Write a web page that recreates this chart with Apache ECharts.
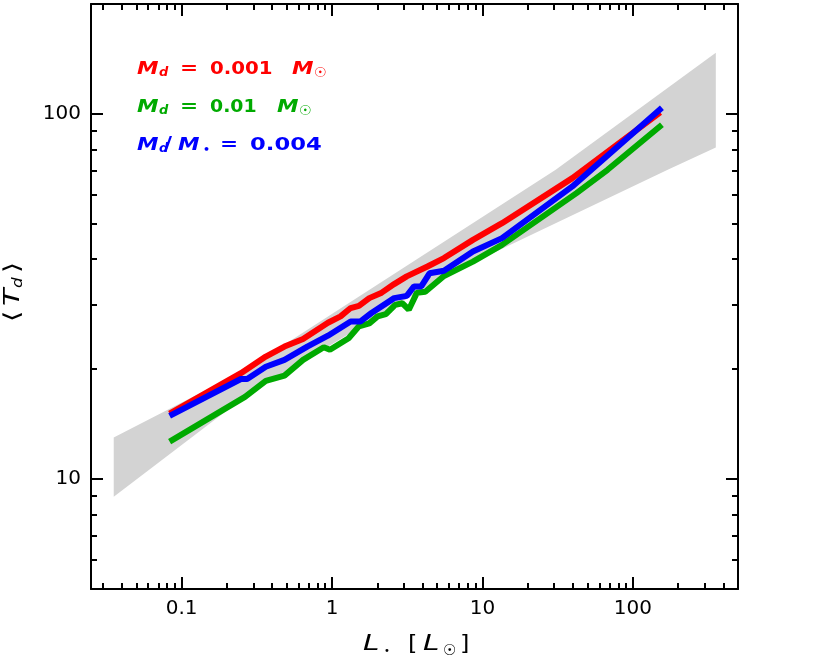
<!DOCTYPE html>
<html><head><meta charset="utf-8">
<script src="https://cdn.jsdelivr.net/npm/echarts@6/dist/echarts.min.js"></script>
<style>html,body{margin:0;padding:0;background:#fff}#c{width:830px;height:662px}</style>
</head><body><div id="c"></div>
<script>
// ---- axis ranges / ticks ----
const xMin = 0.025, xMax = 500;
const yMin = 5, yMax = 200;
const xTickLabels = ['0.1', '1', '10', '100'];
const yTickLabels = ['10', '100'];
const minorMultipliers = [2, 3, 4, 5, 6, 7, 8, 9];

// ---- series (L in L_sun, <T_d> in K) ----
const redL = [0.0833, 0.248, 0.363, 0.483, 0.642, 0.94, 1.14, 1.33, 1.51, 1.77, 2.14, 2.59, 3.14, 4.31, 5.55, 8.65, 13.5, 39.6, 152];
const redT = [15.1, 19.5, 21.65, 23.06, 24.2, 26.8, 27.9, 29.4, 29.8, 31.3, 32.4, 34.2, 35.9, 38.2, 40.3, 45.2, 50.2, 66.7, 101];

const greenL = [0.0833, 0.264, 0.363, 0.483, 0.642, 0.882, 0.969, 1.29, 1.51, 1.77, 2.01, 2.28, 2.63, 2.94, 3.24, 3.67, 4.17, 5.55, 8.65, 13.5, 42.2, 67.9, 156];
const greenT = [12.67, 16.8, 18.57, 19.2, 21.2, 22.97, 22.6, 24.3, 26.2, 26.7, 27.9, 28.3, 30.0, 30.3, 29.1, 32.4, 32.6, 36.0, 39.4, 43.8, 60.7, 70.3, 93.4];

const blueL = [0.0833, 0.248, 0.273, 0.363, 0.483, 0.685, 0.94, 1.33, 1.54, 1.83, 2.59, 3.14, 3.51, 3.92, 4.45, 5.55, 8.65, 13.5, 39.6, 156];
const blueT = [14.9, 18.8, 18.8, 20.3, 21.2, 23.06, 24.7, 27.0, 27.0, 28.5, 31.3, 31.75, 33.7, 33.7, 36.6, 37.2, 42.0, 45.7, 63.3, 104];

// ---- grey band ----
const bandUpperL = [0.0354, 0.264, 30.7, 356];
const bandUpperT = [13.0, 19.9, 70.3, 147];
const bandLowerL = [0.0354, 0.264, 5.55, 170.5, 356];
const bandLowerT = [8.95, 16.8, 35.9, 70.3, 80.9];

const RED = '#ff0000', GREEN = '#00aa00', BLUE = '#0000ff', GREY = '#d3d3d3';
const FONT = '"DejaVu Sans"';

function pairs(a, b) { return a.map((v, i) => [v, b[i]]); }

function makeAxes(dim) {
  const isX = dim === 'x';
  const lo = isX ? xMin : yMin, hi = isX ? xMax : yMax;
  const labels = isX ? xTickLabels : yTickLabels;
  const positions = isX ? ['bottom', 'top'] : ['left', 'right'];
  const axes = [];
  positions.forEach((pos, pi) => {
    axes.push({
      type: 'log', logBase: 10, min: lo, max: hi, position: pos,
      axisLine: { show: true, onZero: false, lineStyle: { color: '#000', width: 2 } },
      axisTick: { show: true, inside: true, length: 12, lineStyle: { color: '#000', width: 2 } },
      splitLine: { show: false },
      axisLabel: {
        show: pi === 0, margin: 10, color: '#000', fontFamily: FONT, fontSize: 20,
        showMinLabel: false, showMaxLabel: false,
        formatter: v => { const s = String(+Number(v).toPrecision(6)); return labels.includes(s) ? s : ''; }
      }
    });
  });
  positions.forEach(pos => {
    minorMultipliers.forEach(m => {
      axes.push({
        type: 'log', logBase: 10, min: lo / m, max: hi / m, position: pos,
        axisLine: { show: false }, splitLine: { show: false }, axisLabel: { show: false },
        axisTick: { show: true, inside: true, length: 6, lineStyle: { color: '#000', width: 2 } }
      });
    });
  });
  return axes;
}

function tok(text, x, y, size, color, italic, sx, bold) {
  return {
    type: 'text', x: x, y: y, scaleX: sx || 1, silent: true,
    style: { text: text, fill: color, font: (italic ? 'italic ' : '') + (bold ? 'bold ' : '') + size + 'px ' + FONT, verticalAlign: 'middle', align: 'left' }
  };
}

function row(color, y, parts) {
  return parts.map(p => tok(p[0], p[1], y + (p[3] || 0), p[2], color, p[4], p[5], true));
}

const graphics = [].concat(
  // legend rows: [text, x, size, dy, italic, scaleX]
  row(RED, 69, [['M', 137, 18, 0, true, 1.2], ['d', 159, 13, 4, true, 1.0], ['=', 180, 18, 0, false, 1.2],
                ['0.001', 210, 18, 0, false, 1.1], ['M', 292, 18, 0, true, 1.2], ['\u2609', 314, 14, 4, false, 1.0]]),
  row(GREEN, 107, [['M', 137, 18, 0, true, 1.2], ['d', 159, 13, 4, true, 1.0], ['=', 180, 18, 0, false, 1.2],
                ['0.01', 210, 18, 0, false, 1.05], ['M', 277, 18, 0, true, 1.2], ['\u2609', 299, 14, 4, false, 1.0]]),
  row(BLUE, 145, [['M', 137, 18, 0, true, 1.2], ['d', 159, 13, 4, true, 1.0], ['/', 164, 20, 0, false, 1.1],
                ['M', 178, 18, 0, true, 1.2], ['\u2022', 203, 11, 5, false, 1.0], ['=', 220, 18, 0, false, 1.2],
                ['0.004', 250, 18, 0, false, 1.26]]),
  [
    // x-axis title
    tok('L', 363, 645, 21, '#000', true, 1.4), tok('\u2022', 384, 651, 10, '#000', false, 1),
    tok('[', 408, 644, 22, '#000', false, 1.1), tok('L', 423, 645, 21, '#000', true, 1.4),
    tok('\u2609', 443, 651, 15, '#000', false, 1.0), tok(']', 460, 644, 22, '#000', false, 1.1),
    // y-axis title (rotated)
    {
      type: 'group', x: 13, y: 322, rotation: Math.PI / 2, silent: true,
      children: [
        tok('\u27E8', 0, 0, 22, '#000', false, 1.3),
        tok('T', 16, 0, 22, '#000', true, 1.3),
        tok('d', 34, 5, 14, '#000', true, 1.2),
        tok('\u27E9', 49, 0, 22, '#000', false, 1.3)
      ]
    }
  ]
);

const chart = echarts.init(document.getElementById('c'), null, { renderer: 'canvas' });
chart.setOption({
  animation: false,
  backgroundColor: '#fff',
  grid: { left: 91, right: 92, top: 4, bottom: 73, containLabel: false },
  xAxis: makeAxes('x'),
  yAxis: makeAxes('y'),
  series: [
    {
      type: 'custom', xAxisIndex: 0, yAxisIndex: 0, silent: true, z: 1,
      data: [[bandUpperL[0], bandUpperT[0]]],
      renderItem: function (params, api) {
        const pts = [];
        for (let i = 0; i < bandUpperL.length; i++) pts.push(api.coord([bandUpperL[i], bandUpperT[i]]));
        for (let i = bandLowerL.length - 1; i >= 0; i--) pts.push(api.coord([bandLowerL[i], bandLowerT[i]]));
        return { type: 'polygon', shape: { points: pts }, style: { fill: GREY } };
      }
    },
    { type: 'line', z: 2, data: pairs(redL, redT), showSymbol: false, lineStyle: { color: RED, width: 6 }, itemStyle: { color: RED } },
    { type: 'line', z: 2, data: pairs(greenL, greenT), showSymbol: false, lineStyle: { color: GREEN, width: 6 }, itemStyle: { color: GREEN } },
    { type: 'line', z: 2, data: pairs(blueL, blueT), showSymbol: false, lineStyle: { color: BLUE, width: 6 }, itemStyle: { color: BLUE } }
  ],
  graphic: graphics
});
</script>
</body></html>
